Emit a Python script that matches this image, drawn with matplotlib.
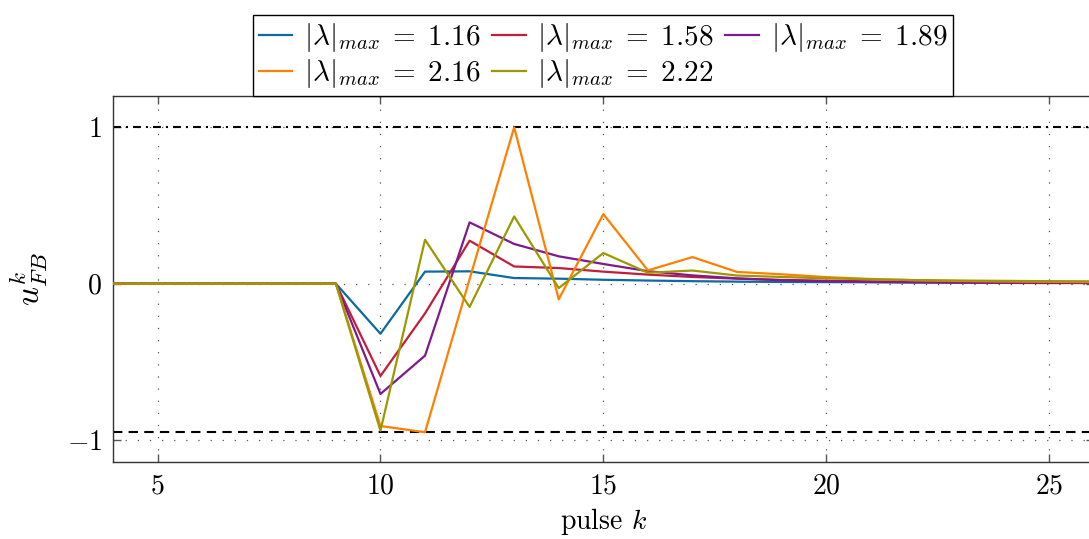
import matplotlib
matplotlib.use("Agg")
import matplotlib.pyplot as plt

plt.rcParams["font.family"] = "serif"
plt.rcParams["font.serif"] = ["cmr10"]
plt.rcParams["mathtext.fontset"] = "cm"
plt.rcParams["axes.formatter.use_mathtext"] = True
plt.rcParams["axes.unicode_minus"] = True

# pulse index
pulses = list(range(4, 27))

# feedback input per pulse for each spectral radius
u_116 = [0, 0, 0, 0, 0, 0, -0.32, 0.077, 0.079, 0.036, 0.032, 0.025, 0.020, 0.016,
         0.013, 0.011, 0.010, 0.009, 0.008, 0.008, 0.007, 0.007, 0.006]
u_158 = [0, 0, 0, 0, 0, 0, -0.59, -0.19, 0.275, 0.110, 0.100, 0.077, 0.058, 0.043,
         0.032, 0.024, 0.019, 0.015, 0.012, 0.010, 0.008, 0.007, 0.006]
u_189 = [0, 0, 0, 0, 0, 0, -0.705, -0.46, 0.392, 0.254, 0.175, 0.126, 0.080, 0.053,
         0.034, 0.022, 0.015, 0.011, 0.008, 0.006, 0.005, 0.004, 0.004]
u_216 = [0, 0, 0, 0, 0, 0, -0.91, -0.95, 0.03, 1.0, -0.10, 0.445, 0.085, 0.170,
         0.075, 0.060, 0.042, 0.030, 0.022, 0.017, 0.014, 0.012, 0.010]
u_222 = [0, 0, 0, 0, 0, 0, -0.94, 0.281, -0.149, 0.430, -0.028, 0.196, 0.070, 0.084,
         0.052, 0.043, 0.034, 0.028, 0.023, 0.020, 0.018, 0.016, 0.015]

labels = ["1.16", "1.58", "1.89", "2.16", "2.22"]
colors = ["#0a6aa1", "#c21e3a", "#7e1a8c", "#ff8000", "#9c9800"]

# input limits
u_upper = 1.0
u_lower = -0.95

x_ticks = [5, 10, 15, 20, 25]
y_ticks = [-1, 0, 1]

fig = plt.figure(figsize=(10.89, 5.39), dpi=100)
ax = fig.add_axes([0.1038, 0.1429, 0.9004, 0.679])

ax.set_xlim(4, 26)
ax.set_ylim(-1.14, 1.2)
ax.set_xticks(x_ticks)
ax.set_yticks(y_ticks)
ax.grid(True, color="#555555", linewidth=0.9, linestyle=(0, (1, 8.7)))
ax.set_axisbelow(True)

ax.axhline(u_upper, color="black", linewidth=1.5, linestyle=(0, (3.8, 2.4, 1, 2.4)), zorder=2)
ax.axhline(u_lower, color="black", linewidth=1.5, linestyle=(0, (4.5, 3.0)), zorder=2)

series = [u_116, u_158, u_189, u_216, u_222]
handles = []
for vals, lab, col in zip(series, labels, colors):
    h, = ax.plot(pulses, vals, color=col, linewidth=1.6,
                 label=r"$|\lambda|_{max}\;=\;" + lab + "$", zorder=3)
    handles.append(h)

for s in ax.spines.values():
    s.set_color("#333333")
    s.set_linewidth(1.0)
ax.tick_params(direction="in", length=6, width=1.0, color="#555555",
               labelsize=20, top=True, right=True, pad=8)

ax.set_xlabel(r"pulse $k$", fontsize=20, labelpad=5)
ax.set_ylabel(r"$u^k_{FB}$", fontsize=24, labelpad=12)

order = [0, 3, 1, 4, 2]
leg = fig.legend([handles[i] for i in order],
                 [handles[i].get_label() for i in order],
                 loc="lower center", bbox_to_anchor=(0.5537, 0.8219), ncol=3,
                 fontsize=21, frameon=True, fancybox=False, framealpha=1,
                 edgecolor="black", handlelength=1.15, handletextpad=0.4,
                 columnspacing=0.4, borderpad=0.2, labelspacing=0.1,
                 borderaxespad=0)
leg.get_frame().set_linewidth(1.0)

fig.savefig("out.png", dpi=100)
